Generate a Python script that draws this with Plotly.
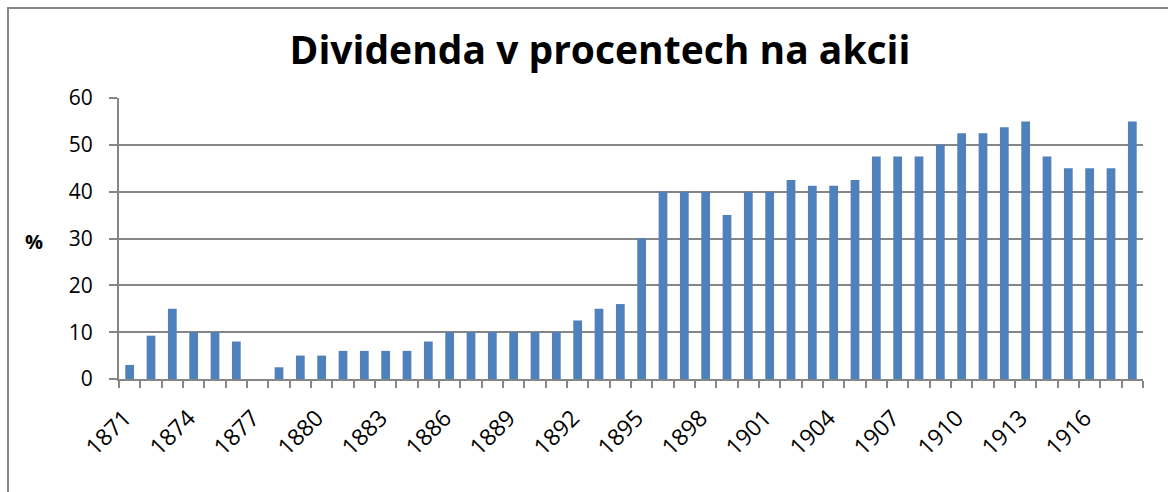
import plotly.graph_objects as go

years = list(range(1871, 1919))
dividend = [3, 9.25, 15, 10, 10, 8, 0, 2.5, 5, 5,
            6, 6, 6, 6, 8, 10, 10, 10, 10, 10,
            10, 12.5, 15, 16, 30, 40, 40, 40, 35, 40,
            40, 42.5, 41.25, 41.25, 42.5, 47.5, 47.5, 47.5, 50, 52.5,
            52.5, 53.75, 55, 47.5, 45, 45, 45, 55]
tick_years = list(range(1871, 1919, 3))
tick_labels = [str(y) for y in tick_years]
boundaries = [y - 0.5 for y in years] + [years[-1] + 0.5]

title_text = "Dividenda v procentech na akcii"
ylabel = "%"

FONT = "Open Sans"
GRAY = "#868686"
xrange_ = [years[0] - 0.5, years[-1] + 0.5]

fig = go.Figure()
fig.add_trace(go.Bar(
    x=years, y=dividend,
    marker=dict(color="#4F81BD", line=dict(width=0)),
    hoverinfo="x+y",
))
# invisible helper so the label axis is rendered
fig.add_trace(go.Scatter(x=tick_years, y=[0] * len(tick_years), xaxis="x2",
                         mode="markers", marker=dict(opacity=0),
                         hoverinfo="skip", showlegend=False))

fig.update_layout(
    width=1168, height=492,
    margin=dict(l=119, r=25, t=98, b=113),
    paper_bgcolor="white", plot_bgcolor="white",
    bargap=0.59,
    showlegend=False,
    font=dict(family=FONT, color="black", size=21),
    title=dict(text="<b>" + title_text + "</b>", x=600 / 1168, xanchor="center",
               xref="container", y=1 - 50 / 492, yanchor="middle", yref="container",
               font=dict(family=FONT, size=39, color="black")),
    xaxis=dict(
        range=xrange_, tickmode="array", tickvals=boundaries,
        ticks="outside", ticklen=7, tickcolor=GRAY, tickwidth=2,
        showticklabels=False, showgrid=False,
        showline=True, linecolor=GRAY, linewidth=2, zeroline=False,
    ),
    xaxis2=dict(
        overlaying="x", side="bottom", anchor="y",
        range=xrange_, tickmode="array", tickvals=tick_years, ticktext=tick_labels,
        tickangle=-45, ticks="", showgrid=False, showline=False, zeroline=False,
        tickfont=dict(family=FONT, size=23, color="black"),
        ticklabelstandoff=20, ticklabelshift=-5,
    ),
    yaxis=dict(
        range=[0, 60], dtick=10, tick0=0,
        showgrid=True, gridcolor=GRAY, gridwidth=2,
        showline=True, linecolor=GRAY, linewidth=2,
        ticks="outside", ticklen=8, tickcolor=GRAY, tickwidth=2,
        tickfont=dict(family=FONT, size=21, color="black"),
        ticklabelstandoff=12, zeroline=False,
    ),
)

fig.add_annotation(text="<b>" + ylabel + "</b>", xref="paper", yref="paper",
                   x=0, y=0.5, xanchor="center", yanchor="middle",
                   xshift=-85, yshift=-3, showarrow=False,
                   font=dict(family=FONT, size=20, color="black"))

# chart frame (left and top edges visible)
fig.add_shape(type="rect", xref="paper", yref="paper",
              x0=(8 - 119) / 1024, x1=(1190 - 119) / 1024,
              y0=(379 - 510) / 281, y1=(379 - 8) / 281,
              line=dict(color=GRAY, width=2), layer="below")

fig.write_html("out.html", config={"displayModeBar": False},
               post_script="document.body.style.margin='0';")
